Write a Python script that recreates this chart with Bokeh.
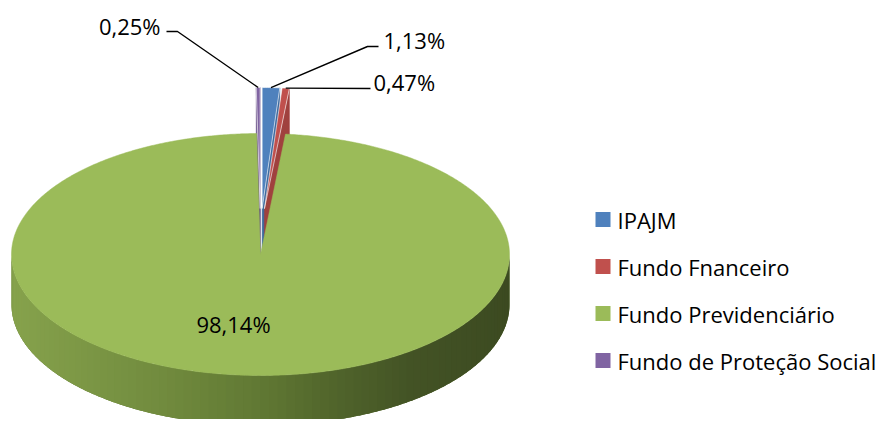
import numpy as np
from bokeh.plotting import figure
from bokeh.models import Range1d
from bokeh.core.properties import value
from bokeh.embed import file_html
from bokeh.resources import INLINE

# ---- data ----
categories = ["IPAJM", "Fundo Fnanceiro", "Fundo Previdenciário", "Fundo de Proteção Social"]
shares = [1.13, 0.47, 98.14, 0.25]
colors = ["#4F81BD", "#C0504D", "#9BBB59", "#8064A2"]
face_colors = ["#3E6A9E", "#A0413E", "#6F8A3C", "#644C84"]
exploded = [True, True, False, True]

# ---- layout ----
W, H = 883, 419
p = figure(width=W, height=H, x_range=Range1d(0, W), y_range=Range1d(H, 0),
           output_backend="svg", toolbar_location=None, min_border=0)
p.axis.visible = False
p.grid.visible = False
p.outline_line_color = None
p.background_fill_color = "white"
p.border_fill_color = "white"

CX, CY, RX, RY, DEPTH, EXPL = 260.0, 254.0, 249.0, 121.0, 50.0, 46.0
FONT = value("Open Sans")
FS = value("22px")


def rim(theta, cx, cy, dz=0.0):
    t = np.radians(theta)
    return cx + RX * np.sin(t), cy - RY * np.cos(t) + dz


def side_color(t):
    stops = [(0.0, (134, 162, 76)), (0.3, (113, 139, 62)), (0.5, (96, 120, 51)),
             (0.65, (80, 100, 43)), (0.8, (67, 83, 37)), (1.0, (60, 74, 33))]
    for (t0, c0), (t1, c1) in zip(stops[:-1], stops[1:]):
        if t <= t1:
            f = (t - t0) / (t1 - t0)
            c = [int(round(a + (b - a) * f)) for a, b in zip(c0, c1)]
            return "#%02x%02x%02x" % tuple(c)
    return "#%02x%02x%02x" % stops[-1][1]


total = sum(shares)
angles = [360.0 * s / total for s in shares]
starts = list(np.cumsum([0] + angles[:-1]))
ends = [s + a for s, a in zip(starts, angles)]

centers = []
for i in range(len(shares)):
    mid = (starts[i] + ends[i]) / 2
    if exploded[i]:
        cx = CX + EXPL * np.sin(np.radians(mid))
        cy = CY - EXPL * np.cos(np.radians(mid))
    else:
        cx, cy = CX, CY
    centers.append((cx, cy))


def draw_slice(i):
    cx, cy = centers[i]
    s, e = starts[i], ends[i]
    # radial faces (only front-facing ones)
    if np.sin(np.radians(e)) > 0:
        rx_, ry_ = rim(e, cx, cy)
        p.patch([cx, rx_, rx_, cx], [cy, ry_, ry_ + DEPTH, cy + DEPTH],
                fill_color=face_colors[i], line_color=face_colors[i], line_width=0.5)
    if np.sin(np.radians(s)) < 0:
        rx_, ry_ = rim(s, cx, cy)
        p.patch([cx, rx_, rx_, cx], [cy, ry_, ry_ + DEPTH, cy + DEPTH],
                fill_color=face_colors[i], line_color=face_colors[i], line_width=0.5)
    # outer rim side (front half only), shaded by horizontal position
    a0, a1 = max(s, 90.0), min(e, 270.0)
    if a1 > a0:
        th = np.linspace(a0, a1, 200)
        bx, by = rim(th, cx, cy)
        p.patch(list(bx) + list(bx[::-1]), list(by) + list((by + DEPTH)[::-1]),
                fill_color=side_color(0.5), line_color=None)
        n = 90
        th = np.linspace(a0, a1, n + 1)
        xs, ys, cs = [], [], []
        for k in range(n):
            tt = np.linspace(th[k], min(th[k + 1] + 0.8, a1), 4)
            x, y = rim(tt, cx, cy)
            xs.append(list(x) + list(x[::-1]))
            ys.append(list(y) + list((y + DEPTH)[::-1]))
            t = (x.mean() - (cx - RX)) / (2 * RX)
            cs.append(side_color(min(max(t, 0), 1)))
        p.patches(xs, ys, fill_color=cs, line_color=None)
    # top face
    th = np.linspace(s, e, max(3, int(e - s) * 2 + 3))
    tx, ty = rim(th, cx, cy)
    lc = "white" if exploded[i] else colors[i]
    p.patch([cx] + list(tx), [cy] + list(ty), fill_color=colors[i],
            line_color=lc, line_width=0.6 if exploded[i] else 0.5)


order = [3, 0, 1, 2]
for i in order:
    draw_slice(i)


def fmt(v):
    return ("%.2f" % v).replace(".", ",") + "%"


# ---- data labels with leader lines ----
label_layout = {
    3: ([(177, 31), (166, 31)], 160, 25, "right"),
    0: ([(367, 46), (378, 46)], 383, 39, "left"),
    1: ([(370, 88)], 373, 81, "left"),
}
for i, (pts, tx, ty, al) in label_layout.items():
    cx, cy = centers[i]
    ax, ay = rim((starts[i] + ends[i]) / 2, cx, cy)
    lx = [ax] + [q[0] for q in pts]
    ly = [ay] + [q[1] for q in pts]
    p.line(lx, ly, line_color="black", line_width=1.4)
    p.text([tx], [ty], text=[fmt(shares[i])], text_font=FONT, text_font_size=FS,
           text_align=al, text_baseline="middle", text_color="black")

p.text([CX - 27], [CY + 69], text=[fmt(shares[2])], text_font=FONT, text_font_size=FS,
       text_align="center", text_baseline="middle", text_color="black")

# ---- legend ----
leg_y = [219, 266, 313, 360]
p.rect([602.5] * 4, leg_y, width=15, height=15, fill_color=colors, line_color=None)
p.text([617] * 4, leg_y, text=categories, text_font=FONT, text_font_size=value("22px"),
       text_align="left", text_baseline="middle", text_color="black")

open("out.html", "w").write(file_html(p, INLINE))
